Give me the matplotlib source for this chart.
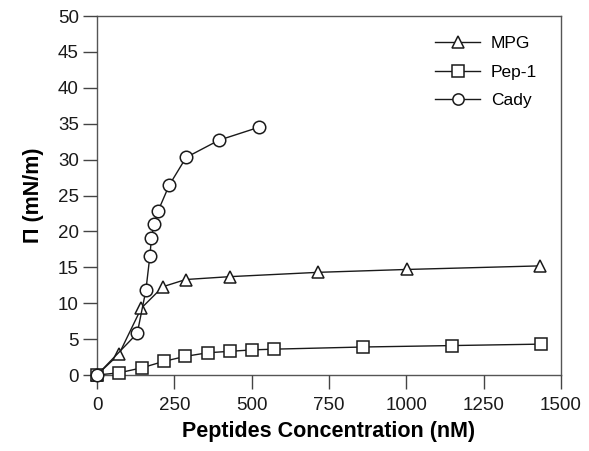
import matplotlib.pyplot as plt

plt.rcParams['font.family'] = ['Liberation Sans', 'DejaVu Sans']

# Surface pressure vs peptide concentration
mpg_x = [0, 71, 143, 213, 287, 430, 715, 1001, 1433]
mpg_y = [0, 2.9, 9.3, 12.3, 13.3, 13.7, 14.3, 14.7, 15.2]

pep1_x = [0, 71, 145, 216, 286, 358, 430, 502, 572, 860, 1147, 1434]
pep1_y = [0, 0.3, 1.0, 1.9, 2.6, 3.1, 3.3, 3.5, 3.6, 3.9, 4.1, 4.3]

cady_x = [0, 130, 158, 171, 176, 184, 197, 233, 288, 394, 523]
cady_y = [0, 5.8, 11.8, 16.6, 19.1, 21.0, 22.8, 26.4, 30.3, 32.7, 34.5]

xticks = [0, 250, 500, 750, 1000, 1250, 1500]
yticks = [0, 5, 10, 15, 20, 25, 30, 35, 40, 45, 50]

fig = plt.figure(figsize=(5.89, 4.51), dpi=100)
ax = fig.add_axes([0.1647, 0.1685, 0.7878, 0.796])

mk = dict(color='#1a1a1a', lw=1.0, markerfacecolor='white',
          markeredgecolor='#1a1a1a', markeredgewidth=1.1, markersize=9)
ax.plot(mpg_x, mpg_y, marker='^', label='MPG', **mk)
ax.plot(pep1_x, pep1_y, marker='s', label='Pep-1', **mk)
ax.plot(cady_x, cady_y, marker='o', label='Cady', **mk)

ax.set_xlim(0, 1500)
ax.set_ylim(0, 50)
ax.set_xticks(xticks)
ax.set_yticks(yticks)
ax.tick_params(direction='out', length=10, width=1, colors='#444444',
               labelsize=13.5, labelcolor='#1a1a1a')
ax.tick_params(axis='x', pad=6)
ax.tick_params(axis='y', pad=3)
for s in ax.spines.values():
    s.set_color('#555555')
    s.set_linewidth(1)
    s.set_zorder(0)

ax.set_xlabel('Peptides Concentration (nM)', fontsize=15.5, fontweight='bold', labelpad=5)
ax.set_ylabel('\u03a0 (mN/m)', fontsize=15.5, fontweight='bold', labelpad=10)

ax.legend(loc='upper left', bbox_to_anchor=(0.695, 0.988), frameon=False,
          fontsize=12.5, handlelength=2.6, handletextpad=0.6,
          labelspacing=0.78, markerscale=0.9)

for a in ax.lines:
    a.set_clip_on(False)

fig.savefig('out.png', dpi=100)
